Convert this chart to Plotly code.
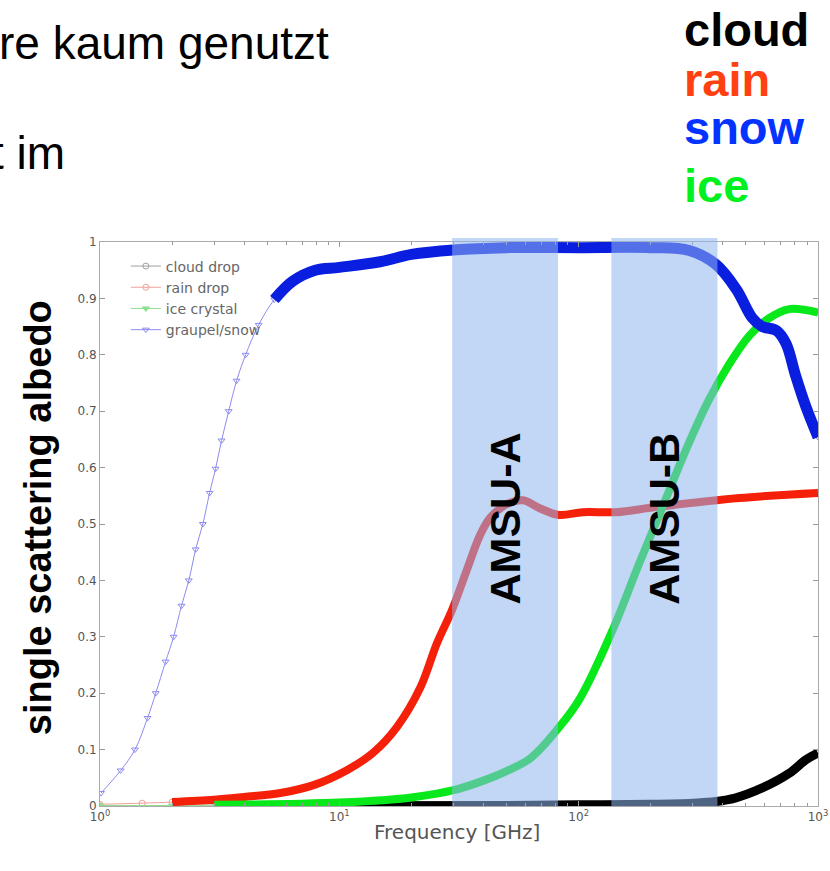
import math
import plotly.graph_objects as go

# Single scattering albedo vs frequency for four hydrometeor types
freq_cloud = [1, 10, 50, 100, 200, 300, 375, 450, 585, 758, 890, 1000]
alb_cloud = [0.0, 0.0005, 0.001, 0.002, 0.003, 0.005, 0.008, 0.014, 0.032, 0.058, 0.082, 0.094]

freq_rain = [1, 1.5, 2, 3, 4, 5.67, 7.8, 10.8, 13.8, 17.4, 21.8, 25.6, 29.6, 34.2, 38.7,
             42.5, 50, 58.5, 68.7, 83, 104, 144, 210, 470, 1000]
alb_rain = [0.003, 0.005, 0.007, 0.011, 0.016, 0.023, 0.037, 0.064, 0.094, 0.14, 0.21, 0.289,
            0.348, 0.42, 0.48, 0.51, 0.535, 0.542, 0.528, 0.516, 0.521, 0.521, 0.53, 0.546, 0.555]

freq_ice = [1, 2, 3, 5, 7, 10, 15, 20, 30, 40, 50, 63, 83, 101, 138, 179, 224, 281, 350, 425,
            517, 625, 758, 1000]
alb_ice = [0.001, 0.001, 0.002, 0.003, 0.004, 0.006, 0.01, 0.015, 0.028, 0.045, 0.062, 0.085,
           0.14, 0.19, 0.31, 0.43, 0.53, 0.632, 0.72, 0.783, 0.834, 0.865, 0.881, 0.875]

freq_snow = [1.01, 1.22, 1.40, 1.58, 1.71, 1.88, 2.03, 2.19, 2.35, 2.51, 2.69, 2.87, 3.04,
             3.22, 3.45, 3.72, 4.06, 4.60, 5.35, 6.36, 7.93, 10, 14.8, 20, 30, 50, 100, 200,
             290, 375, 456, 532, 585, 670, 735, 805, 890, 1000]
alb_snow = [0.023, 0.063, 0.10, 0.156, 0.20, 0.256, 0.30, 0.355, 0.40, 0.455, 0.50, 0.555,
            0.598, 0.648, 0.70, 0.754, 0.80, 0.853, 0.898, 0.93, 0.95, 0.955, 0.965, 0.978,
            0.986, 0.99, 0.99, 0.99, 0.985, 0.96, 0.916, 0.865, 0.85, 0.843, 0.82, 0.764,
            0.708, 0.654]

# first index of each series that is drawn as a bold highlighted curve
bold_start = {"cloud": 1, "rain": 2, "ice": 2, "snow": 18}

# microwave sounder bands [GHz]
band_amsu_a = (29.6, 82.0)
band_amsu_b = (137.0, 380.0)

x_ticks = [1, 10, 100, 1000]
x_ticktext = ["10<sup>0</sup>", "10<sup>1</sup>", "10<sup>2</sup>", "10<sup>3</sup>"]
y_ticks = [0, 0.1, 0.2, 0.3, 0.4, 0.5, 0.6, 0.7, 0.8, 0.9, 1]
y_ticktext = ["0", "0.1", "0.2", "0.3", "0.4", "0.5", "0.6", "0.7", "0.8", "0.9", "1"]
minor_ticks = [m * d for d in (1, 10, 100) for m in range(2, 10)]

series = [
    ("cloud", "cloud drop", freq_cloud, alb_cloud, "#a0a0a0", "circle-open", "#000000", 9),
    ("rain", "rain drop", freq_rain, alb_rain, "#f2a09a", "circle-open", "#f5200a", 8),
    ("ice", "ice crystal", freq_ice, alb_ice, "#8fe08f", "triangle-down", "#08e81a", 8),
    ("snow", "graupel/snow", freq_snow, alb_snow, "#8c8cf0", "triangle-down-open", "#0a1ee0", 11),
]

fig = go.Figure()

# thin marker curves (legend entries)
for key, name, f, a, c, sym, _, _ in series:
    fig.add_trace(go.Scatter(
        x=f, y=a, mode="lines+markers", name=name, line_shape="spline",
        line=dict(color=c, width=1),
        marker=dict(symbol=sym, size=6, color=c, line=dict(color=c, width=1)),
    ))

# bold highlighted curves
for key, name, f, a, _, _, bc, w in series:
    i0 = bold_start[key]
    fig.add_trace(go.Scatter(
        x=f[i0:], y=a[i0:], mode="lines", showlegend=False, line_shape="spline",
        line=dict(color=bc, width=w), hoverinfo="skip",
    ))

# sounder bands, drawn over the curves
for lo, hi in (band_amsu_a, band_amsu_b):
    fig.add_shape(type="rect", xref="x", yref="paper",
                  x0=lo, x1=hi, y0=0, y1=1.007,
                  fillcolor="rgb(143,181,238)", opacity=0.55, line=dict(width=0),
                  layer="above")

tick_font = dict(family="DejaVu Sans", size=12, color="#555555")
legend_font = dict(family="DejaVu Sans", size=14, color="#666666")

annotations = [
    dict(text="AMSU-A", x=math.log10(math.sqrt(band_amsu_a[0] * band_amsu_a[1])), xref="x",
         y=0.51, yref="paper", xanchor="center", yanchor="middle", textangle=-90,
         showarrow=False,
         font=dict(family="Liberation Sans", size=43, color="black", weight="bold")),
    dict(text="AMSU-B", x=math.log10(math.sqrt(band_amsu_b[0] * band_amsu_b[1])), xref="x",
         y=0.51, yref="paper", xanchor="center", yanchor="middle", textangle=-90,
         showarrow=False,
         font=dict(family="Liberation Sans", size=43, color="black", weight="bold")),
    dict(text="single scattering albedo", x=-0.0864, y=0.512, xref="paper", yref="paper",
         xanchor="center", yanchor="middle", textangle=-90, showarrow=False,
         font=dict(family="Liberation Sans", size=38, color="black", weight="bold")),
    dict(text="Frequency [GHz]", x=0.497, y=-0.046, xref="paper", yref="paper",
         xanchor="center", yanchor="middle", showarrow=False,
         font=dict(family="DejaVu Sans", size=20, color="#555555")),
    dict(text="re kaum genutzt", x=0.3217, y=1.353, xref="paper", yref="paper",
         xanchor="right", yanchor="middle", showarrow=False,
         font=dict(family="Liberation Sans", size=46, color="black")),
    dict(text="t im", x=-0.0460, y=1.157, xref="paper", yref="paper",
         xanchor="right", yanchor="middle", showarrow=False,
         font=dict(family="Liberation Sans", size=46, color="black")),
]
for txt, col, ypx in (("cloud", "#000000", 29), ("rain", "#ff4010", 79),
                      ("snow", "#0433ff", 127), ("ice", "#00f020", 185)):
    annotations.append(dict(
        text=txt, x=0.811, y=(806 - ypx) / 564, xref="paper", yref="paper",
        xanchor="left", yanchor="middle", showarrow=False,
        font=dict(family="Liberation Sans", size=47, color=col, weight="bold")))

fig.update_layout(
    width=830, height=871,
    margin=dict(l=100, r=12, t=242, b=65),
    paper_bgcolor="white", plot_bgcolor="white",
    annotations=annotations,
    legend=dict(x=0.036, y=0.985, xanchor="left", yanchor="top",
                bgcolor="rgba(0,0,0,0)", font=legend_font, tracegroupgap=0),
    xaxis=dict(type="log", range=[0, 3], tickvals=x_ticks, ticktext=x_ticktext,
               ticks="inside", ticklen=5, tickcolor="#999", showline=True,
               linecolor="#aaaaaa", mirror="ticks", showgrid=False, zeroline=False,
               tickfont=tick_font, automargin=False,
               minor=dict(ticks="inside", ticklen=3, tickvals=minor_ticks,
                          tickcolor="#999", showgrid=False)),
    yaxis=dict(range=[0, 1], tickvals=y_ticks, ticktext=y_ticktext,
               ticks="inside", ticklen=5, tickcolor="#999", showline=True,
               linecolor="#aaaaaa", mirror="ticks", showgrid=False, zeroline=False,
               tickfont=tick_font, automargin=False),
)

fig.write_html("out.html")
